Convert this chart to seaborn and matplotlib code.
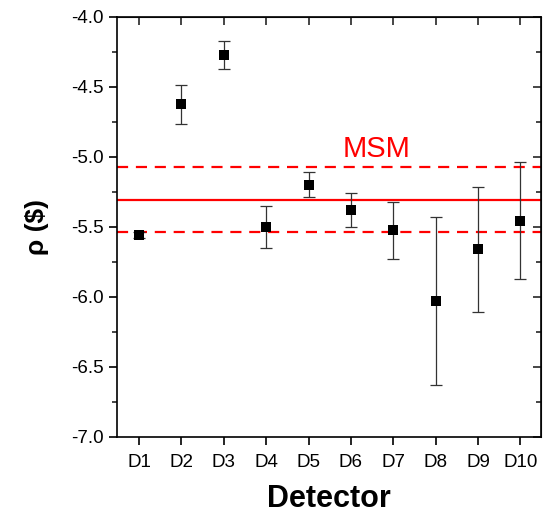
import matplotlib
matplotlib.use("Agg")
import matplotlib.pyplot as plt
from matplotlib.ticker import MultipleLocator
import seaborn as sns
import pandas as pd

# values
detectors = ["D1", "D2", "D3", "D4", "D5", "D6", "D7", "D8", "D9", "D10"]
rho = [-5.56, -4.625, -4.275, -5.50, -5.20, -5.38, -5.525, -6.03, -5.66, -5.455]
rho_err = [0.02, 0.14, 0.10, 0.15, 0.09, 0.12, 0.205, 0.60, 0.445, 0.42]
msm_value = -5.305
msm_err = 0.23

sns.set_style("ticks")
plt.rcParams["font.family"] = ["Liberation Sans", "DejaVu Sans"]

df = pd.DataFrame({"detector": detectors, "rho": rho, "err": rho_err})
df["pos"] = range(1, len(df) + 1)

fig = plt.figure(figsize=(5.43, 5.18), dpi=100)
ax = fig.add_axes([0.2155, 0.1565, 0.7805, 0.811])

# MSM reference band
ax.axhline(msm_value, color="#ff0000", linewidth=1.6, zorder=1)
for s in (-1, 1):
    ax.axhline(msm_value + s * msm_err, color="#ff0000", linewidth=1.6,
               linestyle=(0, (5, 3.5)), zorder=1)
ax.text(6.6, msm_value + msm_err + 0.03, "MSM", color="#ff0000",
        fontsize=21, ha="center", va="bottom")

# data points with error bars
ax.errorbar(df["pos"], df["rho"], yerr=df["err"], fmt="none",
            ecolor="#333333", elinewidth=0.9, capsize=4, capthick=0.9, zorder=2)
sns.scatterplot(data=df, x="pos", y="rho", marker="s", s=42, color="black",
                edgecolor="black", linewidth=0, ax=ax, zorder=3, legend=False)

ax.set_xlim(0.48, 10.48)
ax.set_ylim(-7.0, -4.0)
ax.set_xticks(df["pos"])
ax.set_xticklabels(detectors)
ax.yaxis.set_major_locator(MultipleLocator(0.5))
ax.yaxis.set_minor_locator(MultipleLocator(0.25))
ax.yaxis.set_major_formatter(matplotlib.ticker.FormatStrFormatter("%.1f"))

ax.tick_params(axis="both", which="major", direction="out", length=6, width=1.2,
               labelsize=13.5, colors="black")
ax.tick_params(axis="x", which="major", pad=6)
ax.tick_params(axis="y", which="minor", direction="out", length=3.5, width=1.2)
for sp in ax.spines.values():
    sp.set_linewidth(1.2)
    sp.set_color("black")

# mirrored ticks pointing inward on top and right
top = ax.secondary_xaxis("top")
top.set_xticks(df["pos"])
top.tick_params(direction="in", length=6, width=1.2, labeltop=False)
right = ax.secondary_yaxis("right")
right.yaxis.set_major_locator(MultipleLocator(0.5))
right.yaxis.set_minor_locator(MultipleLocator(0.25))
right.tick_params(which="major", direction="in", length=6, width=1.2, labelright=False)
right.tick_params(which="minor", direction="in", length=3.5, width=1.2)

ax.set_xlabel("Detector", fontsize=22, fontweight="bold", labelpad=10, color="black")
ax.set_ylabel("ρ ($)", fontsize=19, fontweight="bold", labelpad=16, color="black")

fig.savefig("out.png", dpi=100)
